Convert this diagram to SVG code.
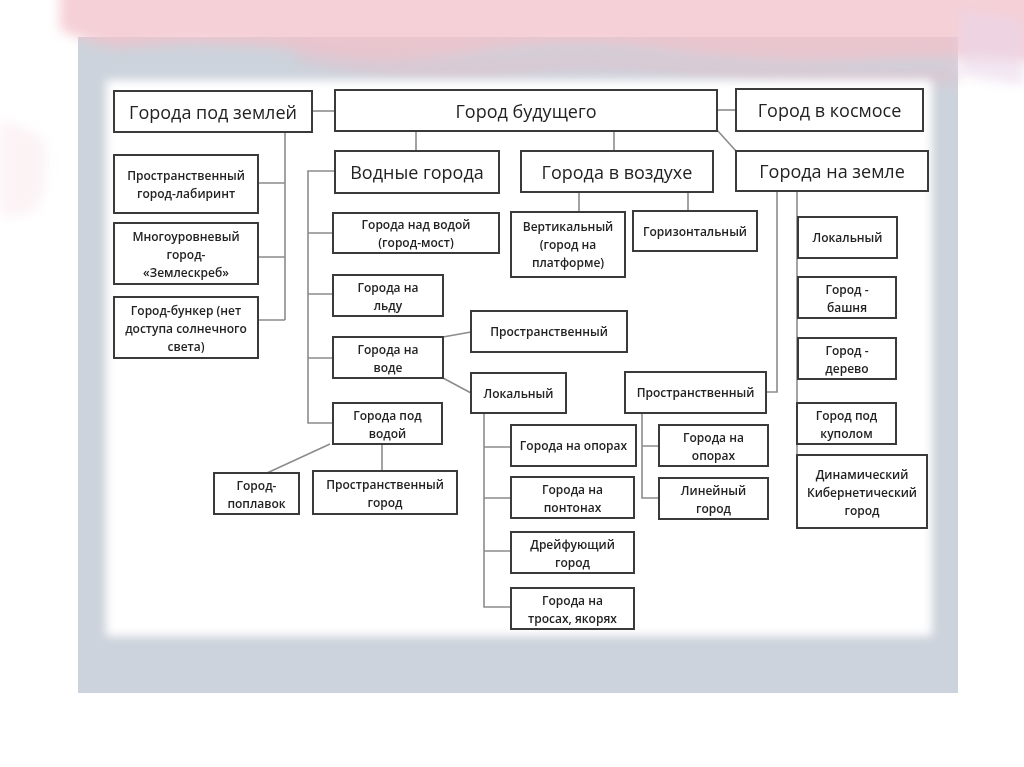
<svg xmlns="http://www.w3.org/2000/svg" width="1024" height="767" viewBox="0 0 1024 767">
<defs>
<filter id="blur8" x="-20%" y="-20%" width="140%" height="140%"><feGaussianBlur stdDeviation="6"/></filter>
<filter id="blur5" x="-10%" y="-10%" width="120%" height="120%"><feGaussianBlur stdDeviation="5"/></filter>
<style>
.box{fill:#fff;stroke:#3a3a3a;stroke-width:2}
.ln{fill:none;stroke:#8c8c8c;stroke-width:1.6}
.t{font-family:"Open Sans","Noto Sans","DejaVu Sans",sans-serif;font-size:18px;fill:#222;text-anchor:middle;dominant-baseline:central}
.s{font-size:12px;font-weight:600}
</style>
</defs>
<g id="background">
<rect x="0" y="0" width="1024" height="767" fill="#ffffff"/>
<rect x="78" y="37" width="880" height="656" fill="#cdd3dc"/>
<g filter="url(#blur8)">
<path d="M60 -10 L1040 -10 L1040 62 Q960 56 880 60 Q770 66 660 50 Q560 38 470 54 Q380 66 300 50 Q200 38 120 48 Q90 44 60 30 Z" fill="#f2c0c9" opacity="0.75"/>
<path d="M290 44 Q400 68 500 56 Q600 46 700 60 Q820 74 958 66 L958 84 Q820 90 700 78 Q590 64 490 78 Q390 84 300 62 Z" fill="#e8bcc8" opacity="0.4"/>
<path d="M0 120 Q25 125 45 140 Q50 170 40 205 Q25 220 0 215 Z" fill="#f5d0d6" opacity="0.25"/>
<path d="M960 10 Q990 14 1024 20 L1024 85 Q990 80 960 75 Z" fill="#ead7ea" opacity="0.6"/>
</g>
<rect x="106" y="80" width="826" height="556" fill="#ffffff" filter="url(#blur5)"/>
</g>
<g id="connectors">
<path class="ln" d="M312 111 H335"/>
<path class="ln" d="M717 110 H736"/>
<path class="ln" d="M416 131 V151"/>
<path class="ln" d="M614 131 V151"/>
<path class="ln" d="M717 130 L736 151"/>
<path class="ln" d="M285 132 V320 M258 183 H285 M258 257 H285 M258 320 H285"/>
<path class="ln" d="M335 171 H308 V423 H333 M308 233 H333 M308 294 H333 M308 358 H333"/>
<path class="ln" d="M443 337 L471 332 M443 378 L471 393"/>
<path class="ln" d="M484 413 V607 H511 M484 447 H511 M484 498 H511 M484 551 H511"/>
<path class="ln" d="M579 192 V212 M688 192 V211"/>
<path class="ln" d="M777 191 V392 H766"/>
<path class="ln" d="M642 413 V498 H659 M642 446 H659"/>
<path class="ln" d="M797 191 V455"/>
<path class="ln" d="M330 444 L267 473 M382 444 V471"/>
</g>
<g id="n1"><rect class="box" x="114" y="91" width="198" height="41"/><text class="t" x="213" y="111.5">Города под землей</text></g>
<g id="n2"><rect class="box" x="335" y="90" width="382" height="41"/><text class="t" x="526" y="110.5">Город будущего</text></g>
<g id="n3"><rect class="box" x="736" y="89" width="187" height="42"/><text class="t" x="829.5" y="110">Город в космосе</text></g>
<g id="n4"><rect class="box" x="335" y="151" width="164" height="42"/><text class="t" x="417" y="172">Водные города</text></g>
<g id="n5"><rect class="box" x="521" y="151" width="192" height="41"/><text class="t" x="617" y="171.5">Города в воздухе</text></g>
<g id="n6"><rect class="box" x="736" y="151" width="192" height="40"/><text class="t" x="832" y="171">Города на земле</text></g>
<g id="n7"><rect class="box" x="114" y="155" width="144" height="58"/><text class="t s"><tspan x="186" y="175">Пространственный</tspan><tspan x="186" y="193">город-лабиринт</tspan></text></g>
<g id="n8"><rect class="box" x="114" y="223" width="144" height="61"/><text class="t s"><tspan x="186" y="236">Многоуровневый</tspan><tspan x="186" y="254">город-</tspan><tspan x="186" y="272">«Землескреб»</tspan></text></g>
<g id="n9"><rect class="box" x="114" y="297" width="144" height="61"/><text class="t s"><tspan x="186" y="310">Город-бункер (нет</tspan><tspan x="186" y="328">доступа солнечного</tspan><tspan x="186" y="346">света)</tspan></text></g>
<g id="n10"><rect class="box" x="333" y="213" width="166" height="40"/><text class="t s"><tspan x="416" y="224">Города над водой</tspan><tspan x="416" y="242">(город-мост)</tspan></text></g>
<g id="n11"><rect class="box" x="333" y="275" width="110" height="41"/><text class="t s"><tspan x="388" y="287">Города на</tspan><tspan x="388" y="305">льду</tspan></text></g>
<g id="n12"><rect class="box" x="333" y="337" width="110" height="41"/><text class="t s"><tspan x="388" y="349">Города на</tspan><tspan x="388" y="367">воде</tspan></text></g>
<g id="n13"><rect class="box" x="333" y="403" width="109" height="41"/><text class="t s"><tspan x="387.5" y="415">Города под</tspan><tspan x="387.5" y="433">водой</tspan></text></g>
<g id="n14"><rect class="box" x="471" y="311" width="156" height="41"/><text class="t s" x="549" y="331.5">Пространственный</text></g>
<g id="n15"><rect class="box" x="471" y="373" width="95" height="40"/><text class="t s" x="518.5" y="393">Локальный</text></g>
<g id="n16"><rect class="box" x="511" y="425" width="125" height="41"/><text class="t s" x="573.5" y="445.5">Города на опорах</text></g>
<g id="n17"><rect class="box" x="511" y="477" width="123" height="41"/><text class="t s"><tspan x="572.5" y="489">Города на</tspan><tspan x="572.5" y="507">понтонах</tspan></text></g>
<g id="n18"><rect class="box" x="511" y="532" width="123" height="41"/><text class="t s"><tspan x="572.5" y="544">Дрейфующий</tspan><tspan x="572.5" y="562">город</tspan></text></g>
<g id="n19"><rect class="box" x="511" y="588" width="123" height="41"/><text class="t s"><tspan x="572.5" y="600">Города на</tspan><tspan x="572.5" y="618">тросах, якорях</tspan></text></g>
<g id="n20"><rect class="box" x="511" y="212" width="114" height="65"/><text class="t s"><tspan x="568" y="226">Вертикальный</tspan><tspan x="568" y="244">(город на</tspan><tspan x="568" y="262">платформе)</tspan></text></g>
<g id="n21"><rect class="box" x="633" y="211" width="124" height="40"/><text class="t s" x="695" y="231">Горизонтальный</text></g>
<g id="n22"><rect class="box" x="625" y="372" width="141" height="41"/><text class="t s" x="695.5" y="392.5">Пространственный</text></g>
<g id="n23"><rect class="box" x="659" y="425" width="109" height="41"/><text class="t s"><tspan x="713.5" y="437">Города на</tspan><tspan x="713.5" y="455">опорах</tspan></text></g>
<g id="n24"><rect class="box" x="659" y="478" width="109" height="41"/><text class="t s"><tspan x="713.5" y="490">Линейный</tspan><tspan x="713.5" y="508">город</tspan></text></g>
<g id="n25"><rect class="box" x="798" y="217" width="99" height="41"/><text class="t s" x="847.5" y="237.5">Локальный</text></g>
<g id="n26"><rect class="box" x="798" y="277" width="98" height="41"/><text class="t s"><tspan x="847" y="289">Город -</tspan><tspan x="847" y="307">башня</tspan></text></g>
<g id="n27"><rect class="box" x="798" y="338" width="98" height="41"/><text class="t s"><tspan x="847" y="350">Город -</tspan><tspan x="847" y="368">дерево</tspan></text></g>
<g id="n28"><rect class="box" x="797" y="403" width="99" height="41"/><text class="t s"><tspan x="846.5" y="415">Город под</tspan><tspan x="846.5" y="433">куполом</tspan></text></g>
<g id="n29"><rect class="box" x="797" y="455" width="130" height="73"/><text class="t s"><tspan x="862" y="474">Динамический</tspan><tspan x="862" y="492">Кибернетический</tspan><tspan x="862" y="510">город</tspan></text></g>
<g id="n30"><rect class="box" x="214" y="473" width="85" height="41"/><text class="t s"><tspan x="256.5" y="485">Город-</tspan><tspan x="256.5" y="503">поплавок</tspan></text></g>
<g id="n31"><rect class="box" x="313" y="471" width="144" height="43"/><text class="t s"><tspan x="385" y="484">Пространственный</tspan><tspan x="385" y="502">город</tspan></text></g>
</svg>
